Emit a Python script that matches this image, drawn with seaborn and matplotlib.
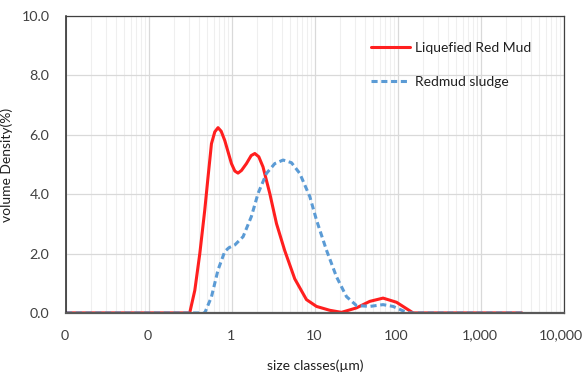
import pandas as pd
import seaborn as sns
import matplotlib
matplotlib.use("Agg")
import matplotlib.pyplot as plt
from matplotlib.ticker import FixedLocator, FixedFormatter, LogLocator, NullFormatter
from matplotlib.transforms import ScaledTranslation

# Valores (tamanho em µm, densidade em %)
red_sizes = [0.01, 0.1, 0.309, 0.356, 0.409, 0.469, 0.514, 0.565, 0.62, 0.678, 0.74, 0.817,
             0.984, 1.08, 1.18, 1.3, 1.49, 1.7, 1.88, 2.1, 2.36, 2.85, 3.43, 4.31, 5.69,
             7.87, 10.4, 15.0, 20.8, 31.5, 45.6, 65.9, 95.7, 152, 3100]
red_values = [0, 0, 0, 0.76, 2.0, 3.46, 4.58, 5.7, 6.1, 6.24, 6.12, 5.81,
              5.03, 4.78, 4.71, 4.8, 5.03, 5.3, 5.37, 5.26, 4.92, 4.02, 3.01, 2.1, 1.15,
              0.45, 0.22, 0.09, 0.02, 0.17, 0.39, 0.5, 0.36, 0, 0]

blue_sizes = [0.01, 0.1, 0.469, 0.565, 0.678, 0.817, 0.92, 1.08, 1.36, 1.71, 2.06, 2.60,
              3.27, 4.12, 5.2, 6.54, 8.64, 10.4, 13.7, 18.1, 23.9, 31.5, 45.6,
              65.9, 87, 115, 139, 3100]
blue_values = [0, 0, 0, 0.54, 1.45, 2.07, 2.2, 2.29, 2.57, 3.25, 4.03, 4.7,
               5.03, 5.15, 5.06, 4.7, 3.92, 3.13, 2.12, 1.22, 0.55, 0.25, 0.22,
               0.28, 0.22, 0.07, 0, 0]

series_names = ["Liquefied Red Mud", "Redmud sludge"]
x_ticks = [0.01, 0.1, 1, 10, 100, 1000, 10000]
x_tick_labels = ["0", "0", "1", "10", "100", "1,000", "10,000"]
y_ticks = [0, 2, 4, 6, 8, 10]
y_tick_labels = ["0.0", "2.0", "4.0", "6.0", "8.0", "10.0"]

df = pd.concat([
    pd.DataFrame({"size": red_sizes, "density": red_values, "serie": series_names[0]}),
    pd.DataFrame({"size": blue_sizes, "density": blue_values, "serie": series_names[1]}),
], ignore_index=True)

sns.set_style("white")
plt.rcParams["font.family"] = ["Lato", "DejaVu Sans"]

fig = plt.figure(figsize=(5.84, 3.73), dpi=100)
ax = fig.add_axes([0.113, 0.161, 0.853, 0.796])

ax.set_xscale("log")
ax.grid(True, which="major", color="#d9d9d9", linewidth=0.9)
ax.grid(True, which="minor", axis="x", color="#efefef", linewidth=0.8)
ax.set_axisbelow(True)

sns.lineplot(data=df, x="size", y="density", hue="serie", style="serie",
             palette={series_names[0]: "#ff1f1f", series_names[1]: "#5b9bd5"},
             dashes={series_names[0]: "", series_names[1]: (2, 1.2)},
             linewidth=2.2, ax=ax, estimator=None, sort=False)

ax.set_xlim(0.01, 10000)
ax.set_ylim(0, 10)
ax.xaxis.set_major_locator(FixedLocator(x_ticks))
ax.xaxis.set_major_formatter(FixedFormatter(x_tick_labels))
ax.xaxis.set_minor_locator(LogLocator(base=10, subs=range(2, 10)))
ax.xaxis.set_minor_formatter(NullFormatter())
ax.set_yticks(y_ticks)
ax.set_yticklabels(y_tick_labels)

ax.tick_params(axis="both", which="major", direction="in", length=4, width=1,
               color="#404040", labelsize=10.3, labelcolor="#404040")
ax.tick_params(axis="y", which="major", pad=12)
ax.tick_params(axis="x", which="major", pad=12)
ax.tick_params(axis="x", which="minor", length=0)

# decalar um pouco os rótulos do eixo x para a esquerda (o último fica dentro da figura)
xlabels = ax.get_xticklabels()
for i, lab in enumerate(xlabels):
    dx = -0.035 if i == len(xlabels) - 1 else -0.015
    lab.set_transform(lab.get_transform() + ScaledTranslation(dx, 0, fig.dpi_scale_trans))

for side in ["top", "right"]:
    ax.spines[side].set_color("#404040")
    ax.spines[side].set_linewidth(0.9)
ax.spines["left"].set_color("#202020")
ax.spines["left"].set_linewidth(1.1)
ax.spines["bottom"].set_color("#595959")
ax.spines["bottom"].set_linewidth(1.6)

ax.set_xlabel("size classes(µm)", fontsize=10, color="#202020")
ax.xaxis.set_label_coords(0.5, -0.155)
ax.set_ylabel("volume Density(%)", fontsize=10, color="#202020")
ax.yaxis.set_label_coords(-0.107, 0.5)

leg = ax.legend(loc="upper left", bbox_to_anchor=(0.612, 0.912), frameon=False,
                fontsize=10, handlelength=2.8, handletextpad=0.4,
                labelspacing=1.55, borderpad=0, borderaxespad=0)
for t in leg.get_texts():
    t.set_color("#202020")

plt.savefig("out.png", dpi=100)
